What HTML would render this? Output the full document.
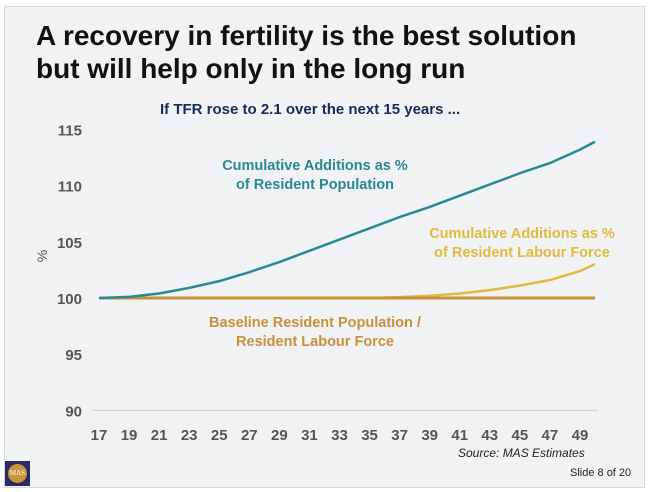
<!DOCTYPE html>
<html><head><meta charset="utf-8"><style>
body{margin:0;width:649px;height:492px;background:#fff;overflow:hidden;font-family:"Liberation Sans",sans-serif}
#slide{position:absolute;left:4px;top:6px;width:641px;height:482px;background:#f1f2f4;border:1px solid #d8d8d8;box-sizing:border-box}
.t{position:absolute;font-weight:bold;white-space:nowrap}
</style></head><body>
<div id="slide"></div>
<div class="t" style="left:36px;top:19px;font-size:28px;line-height:33px;color:#111">A recovery in fertility is the best solution<br>but will help only in the long run</div>
<div class="t" style="left:160px;top:101px;font-size:15px;color:#1b2a5c">If TFR rose to 2.1 over the next 15 years ...</div>
<svg id="chart" width="649" height="492" style="position:absolute;left:0;top:0"></svg>
<div class="t" style="left:458px;top:446px;font-size:12px;font-style:italic;font-weight:normal;color:#222">Source: MAS Estimates</div>
<div class="t" style="left:570px;top:467px;font-size:11px;font-weight:normal;color:#222">Slide 8 of 20</div>
<div style="position:absolute;left:5px;top:461px;width:25px;height:25px;background:#2a2a6a"><div style="position:absolute;left:3px;top:3px;width:19px;height:19px;border-radius:50%;background:#c8953a;color:#fff;font:7px 'Liberation Serif',serif;text-align:center;line-height:19px">MAS</div></div>
<script>
const years=[17,19,21,23,25,27,29,31,33,35,37,39,41,43,45,47,49,50];
const popVals=[100,100.1,100.4,100.9,101.5,102.3,103.2,104.2,105.2,106.2,107.2,108.1,109.1,110.1,111.1,112.0,113.2,113.9];
const labVals=[100,100,100,100,100,100,100,100,100,100,100.08,100.2,100.4,100.7,101.1,101.6,102.4,103.0];
const baseVals=years.map(()=>100);
const yTicks=[90,95,100,105,110,115];
const xTicks=[17,19,21,23,25,27,29,31,33,35,37,39,41,43,45,47,49];
const NS="http://www.w3.org/2000/svg",svg=document.getElementById('chart');
const x=v=>99+(v-17)*15.03, y=v=>298-(v-100)*11.24;
function mk(t,a,txt){const e=document.createElementNS(NS,t);for(const k in a)e.setAttribute(k,a[k]);if(txt!=null)e.textContent=txt;svg.appendChild(e);return e;}
let g=mk('line',{x1:92,x2:598,y1:y(90),y2:y(90),stroke:'#d0d0d0','stroke-width':1});

yTicks.forEach(v=>{const e=mk('text',{x:82,y:y(v)+6,'text-anchor':'end','font-size':15,'font-weight':'bold',fill:'#555','font-family':'Liberation Sans'},v);
});
xTicks.forEach(v=>{const e=mk('text',{x:x(v),y:440,'text-anchor':'middle','font-size':15,'font-weight':'bold',fill:'#555','font-family':'Liberation Sans'},v);
});
let yt=mk('text',{x:0,y:0,transform:'translate(47,256) rotate(-90)','text-anchor':'middle','font-size':14,fill:'#555','font-family':'Liberation Sans'},'%');

function line(vals,col,w,name){const e=mk('polyline',{points:years.map((yr,i)=>x(yr)+','+y(vals[i])).join(' '),fill:'none',stroke:col,'stroke-width':w,'stroke-linejoin':'round'});
}
line(labVals,'#e3b93f',2.5,'labour-force-line');
line(baseVals,'#c8913a',3,'baseline-line');
line(popVals,'#2a8a94',2.5,'population-line');
function lab(lines,cx,cy,col,name){lines.forEach((s,i)=>{const e=mk('text',{x:cx,y:cy+i*19,'text-anchor':'middle','font-size':14.5,'font-weight':'bold',fill:col,'font-family':'Liberation Sans'},s);
});}
lab(['Cumulative Additions as %','of Resident Population'],315,170,'#2a8a94','population-label');
lab(['Cumulative Additions as %','of Resident Labour Force'],522,238,'#e3b93f','labour-force-label');
lab(['Baseline Resident Population /','Resident Labour Force'],315,327,'#c8913a','baseline-label');
</script>
</body></html>
